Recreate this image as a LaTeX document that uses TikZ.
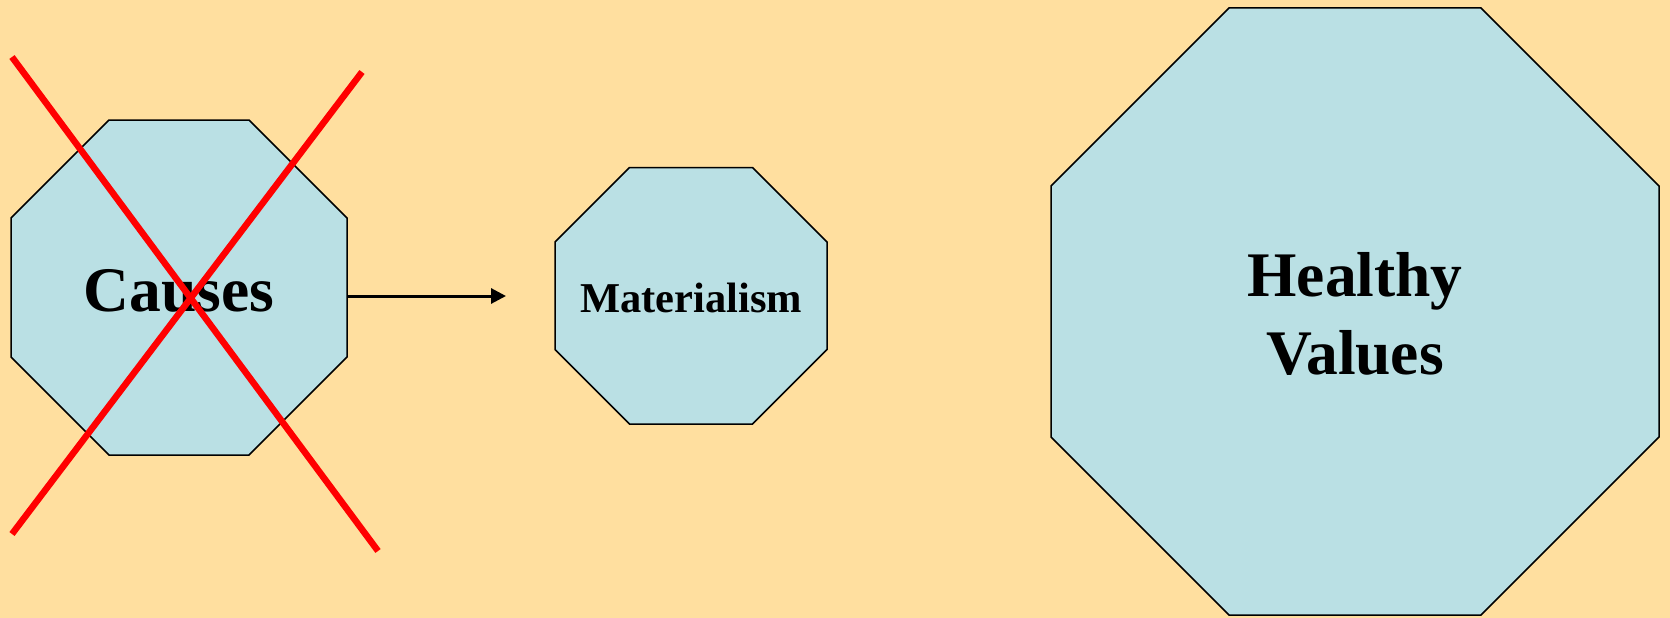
\documentclass[tikz,border=0pt]{standalone}
\usepackage{fontspec}
\setmainfont{Liberation Serif}
\usetikzlibrary{arrows.meta}
\definecolor{bgc}{RGB}{255,223,159}
\definecolor{octfill}{RGB}{186,224,228}
\definecolor{crossred}{RGB}{255,0,0}
\tikzset{
  octa/.style={draw=black, line width=1.5pt, fill=octfill, line join=miter},
  cross/.style={draw=crossred, line width=6.5pt},
  bigtxt/.style={font=\bfseries\fontsize{63.5}{78}\selectfont, inner sep=0pt, anchor=base},
  midtxt/.style={font=\bfseries\fontsize{42.5}{50}\selectfont, inner sep=0pt, anchor=base},
  conn/.style={draw=black, line width=3pt, -{Triangle[length=15pt,width=15pt]}}
}
\begin{document}
\begin{tikzpicture}[x=1pt,y=-1pt]
\useasboundingbox (0,0) rectangle (1670,618);
\fill[bgc] (0,0) rectangle (1670,618);
% octagon 1
\path[octa] (109,120) -- (249,120) -- (347,218) -- (347,357) -- (249,455) -- (109,455) -- (11,357) -- (11,218) -- cycle;
% octagon 2
\path[octa] (629.5,167.5) -- (752.5,167.5) -- (827,242) -- (827,349.5) -- (752.5,424) -- (629.5,424) -- (555,349.5) -- (555,242) -- cycle;
% octagon 3
\path[octa] (1229,8) -- (1481,8) -- (1659,186) -- (1659,437) -- (1481,615) -- (1229,615) -- (1051,437) -- (1051,186) -- cycle;
% texts
\node[bigtxt] (causes) at (179,311) {Causes};
\node[midtxt] (mat) at (691,312) {Materialism};
\node[bigtxt] (hv1) at (1355,296) {Healthy};
\node[bigtxt] (hv2) at (1355,374) {Values};
% arrow
\coordinate (aS) at (347,296);
\coordinate (aE) at (506,296);
\draw[conn] (aS) -- (aE);
% red cross
\coordinate (c1a) at (12,57);
\coordinate (c1b) at (378,551);
\coordinate (c2a) at (362,72);
\coordinate (c2b) at (12,534);
\draw[cross] (c1a) -- (c1b);
\draw[cross] (c2a) -- (c2b);
\end{tikzpicture}
\end{document}
